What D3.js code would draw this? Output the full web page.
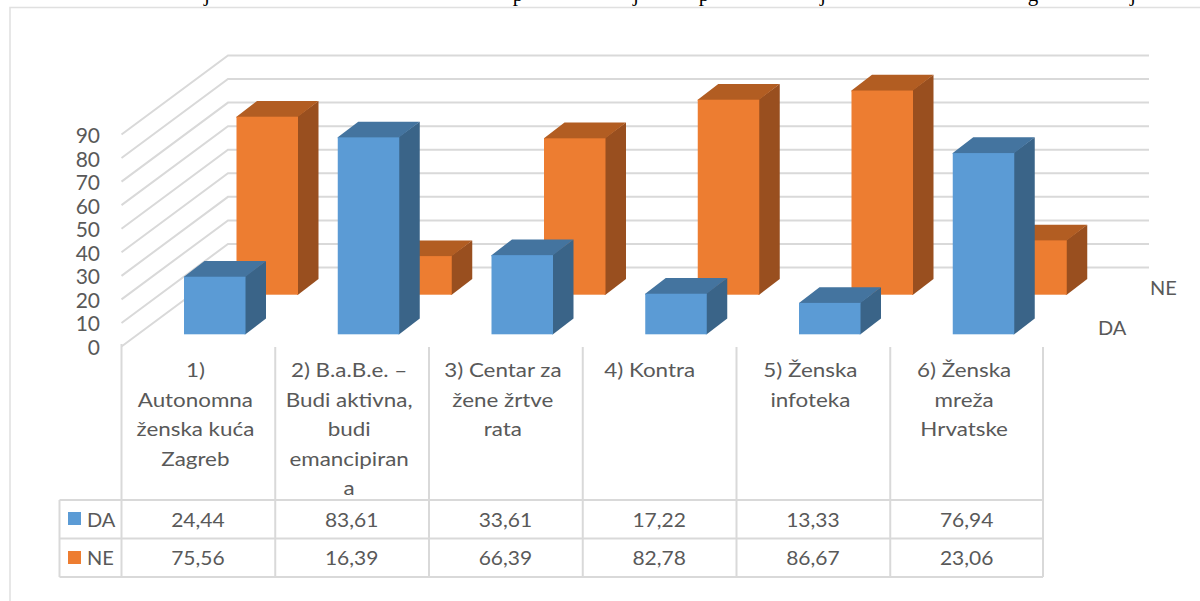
<!DOCTYPE html>
<html><head><meta charset="utf-8">
<script src="https://d3js.org/d3.v7.min.js"></script>
<style>html,body{margin:0;background:#fff}svg{display:block}text{font-family:Lato,sans-serif;fill:#595959}</style>
</head><body><svg id="c" width="1200" height="601"></svg>
<script>
const categories=[["1)","Autonomna","ženska kuća","Zagreb"],["2) B.a.B.e. –","Budi aktivna,","budi","emancipiran","a"],["3) Centar za","žene žrtve","rata"],["4) Kontra"],["5) Ženska","infoteka"],["6) Ženska","mreža","Hrvatske"]];
const daValues=[24.44,83.61,33.61,17.22,13.33,76.94];
const neValues=[75.56,16.39,66.39,82.78,86.67,23.06];
const yTicks=[0,10,20,30,40,50,60,70,80,90];
const clippedBodyGlyphs=[["j",207],["p",518],["j",636],["p",704],["j",823],["g",1033],["j",1133]];
const fmt=v=>v.toFixed(2).replace(".",",");
const svg=d3.select("#c");
const idx=d3.range(categories.length);
const x=d3.scaleBand().domain(idx).range([121.5,1044]);
const y=d3.scaleLinear().domain([0,90]).range([0,-212]);
const backDx=106.5;
const grid="#d9d9d9";
// clipped line of body text above the chart frame
svg.append("g").selectAll("text").data(clippedBodyGlyphs).join("text")
  .attr("x",d=>d[1]).attr("y",1).attr("text-anchor","middle")
  .style("font-family","'Liberation Serif',serif").style("fill","#000").attr("font-size",21).text(d=>d[0]);
// frame
svg.append("path").attr("d","M10,601V7.5H1200").attr("fill","none").attr("stroke","#e0e0e0").attr("stroke-width",1.5);
// gridlines
const y0Front=346.5,y0Back=267.5;
const g=svg.append("g").attr("stroke",grid).attr("stroke-width",2).attr("fill","none");
yTicks.forEach(t=>{
  g.append("path").attr("d",`M121.5,${y0Front+y(t)}L${121.5+backDx},${y0Back+y(t)}L1149,${y0Back+y(t)}`);
});
svg.selectAll(".yl").data(yTicks).join("text").attr("x",100).attr("y",d=>y0Front+y(d)+8.5)
  .attr("text-anchor","end").attr("font-size",21).text(d=>d);
// bars
const bw=61.5,dx=20.5,dy=15.7;
const pal={DA:["#5b9bd5","#44749f","#3a6488"],NE:["#ed7d31","#b25d22","#994f1f"]};
function box(px,base,h,c){
  const t=base-h,r=px+bw;
  const gg=svg.append("g");
  gg.append("path").attr("fill",c[2]).attr("d",`M${r-1},${t}L${r+dx},${t-dy}V${base-dy}L${r},${base}H${r-1}Z`);
  gg.append("path").attr("fill",c[1]).attr("d",`M${px},${t+1}V${t}L${px+dx},${t-dy}H${r+dx}L${r},${t}V${t+1}Z`);
  gg.append("rect").attr("x",px).attr("y",t).attr("width",bw).attr("height",h).attr("fill",c[0]);
}
const h=v=>-y(v);
idx.forEach(i=>box(x(i)+115,294.7,h(neValues[i]),pal.NE));
idx.forEach(i=>box(x(i)+62.5,334.3,h(daValues[i]),pal.DA));
svg.append("text").attr("x",1150).attr("y",295).attr("font-size",20).text("NE");
svg.append("text").attr("x",1098).attr("y",334.5).attr("font-size",20).text("DA");
// table
const rows=[347,500,538.5,577];
const t=svg.append("g").attr("stroke",grid).attr("stroke-width",2);
idx.concat([6]).forEach(i=>{const px=i<6?x(i):1043;t.append("line").attr("x1",px).attr("x2",px).attr("y1",i==0?344:347).attr("y2",577)});
t.append("line").attr("x1",59.5).attr("x2",59.5).attr("y1",500).attr("y2",577);
rows.slice(1).forEach(r=>t.append("line").attr("x1",59.5).attr("x2",1043).attr("y1",r).attr("y2",r));
idx.forEach(i=>{
  const cx=x(i)+x.bandwidth()/2;
  const lx=cx-(i===3?10:3);
  svg.append("g").selectAll("text").data(categories[i]).join("text")
    .attr("transform",(d,k)=>`translate(${lx},${377+k*29.5}) scale(1.12,1)`)
    .attr("text-anchor","middle").attr("font-size",20).text(d=>d);
  svg.append("text").attr("transform",`translate(${cx-0.5},527) scale(1.05,1)`).attr("text-anchor","middle").attr("font-size",20).text(fmt(daValues[i]));
  svg.append("text").attr("transform",`translate(${cx-0.5},565) scale(1.05,1)`).attr("text-anchor","middle").attr("font-size",20).text(fmt(neValues[i]));
});
[["DA",512,pal.DA[0],527],["NE",551,pal.NE[0],565]].forEach(([s,ry,c,ty])=>{
  svg.append("rect").attr("x",68).attr("y",ry).attr("width",13).attr("height",13).attr("fill",c);
  svg.append("text").attr("x",87).attr("y",ty).attr("font-size",20).text(s);
});
</script></body></html>
